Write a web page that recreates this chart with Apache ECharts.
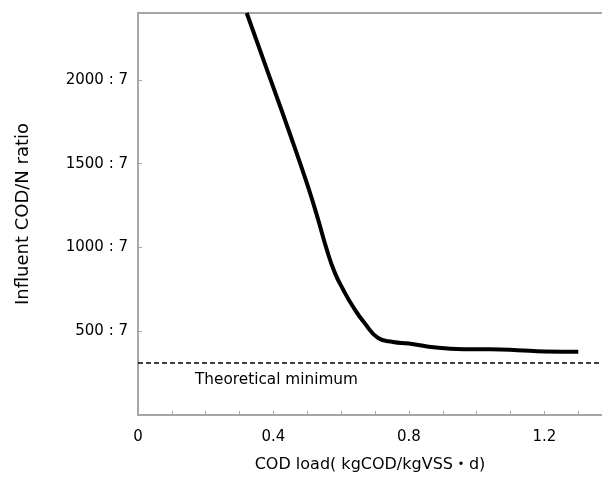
<!DOCTYPE html>
<html>
<head>
<meta charset="utf-8">
<script src="https://cdn.jsdelivr.net/npm/echarts@6/dist/echarts.min.js"></script>
<style>html,body{margin:0;padding:0;background:#fff}#c{width:602px;height:478px}</style>
</head>
<body>
<div id="c"></div>
<script>
// COD load (kgCOD/kgVSS·d)
var codLoad = [0.321, 0.39, 0.45, 0.50, 0.53, 0.557, 0.581, 0.606, 0.635, 0.670, 0.709, 0.753, 0.80, 0.88, 0.96, 1.04, 1.12, 1.20, 1.30];
// Influent COD (per 7 N)
var codNRatio = [2400, 2010, 1670, 1375, 1180, 990, 850, 748, 646, 546, 460, 436, 427, 403, 393, 392, 387, 379, 377];
var theoreticalMinimum = 311;
var xTickLabels = ['0', '0.4', '0.8', '1.2'];
var yTickLabels = ['500 : 7', '1000 : 7', '1500 : 7', '2000 : 7'];

var FONT = '"DejaVu Sans", "Noto Sans CJK JP", sans-serif';
var AXIS_GRAY = '#a6a6a6';

var chart = echarts.init(document.getElementById('c'), null, {renderer: 'canvas'});
var points = codLoad.map(function (x, i) { return [x, codNRatio[i]]; });

chart.setOption({
  animation: false,
  backgroundColor: '#fff',
  grid: {left: 138, right: 0, top: 13, bottom: 63, containLabel: false},
  xAxis: [{
    type: 'value', min: 0, max: 1.37, interval: 0.1,
    name: 'COD load( kgCOD/kgVSS・d)', nameLocation: 'middle', nameGap: 42,
    nameTextStyle: {color: '#000', fontSize: 16, fontFamily: FONT},
    axisLine: {show: true, onZero: false, lineStyle: {color: AXIS_GRAY, width: 2}},
    axisTick: {show: true, inside: true, length: 4, lineStyle: {color: AXIS_GRAY, width: 1}},
    axisLabel: {
      color: '#000', fontSize: 15, fontFamily: FONT, margin: 15, showMaxLabel: false,
      formatter: function (v) {
        var r = Math.round(v * 10);
        if (r % 4 !== 0) return '';
        return xTickLabels[r / 4] || '';
      }
    },
    splitLine: {show: false}
  }, {
    type: 'value', min: 0, max: 1.37, position: 'top',
    axisLine: {show: true, onZero: false, lineStyle: {color: AXIS_GRAY, width: 2}},
    axisTick: {show: false}, axisLabel: {show: false}, splitLine: {show: false}
  }],
  yAxis: {
    type: 'value', min: 0, max: 2400, interval: 500,
    name: 'Influent COD/N ratio', nameLocation: 'middle', nameGap: 106,
    nameTextStyle: {color: '#000', fontSize: 18, fontFamily: FONT},
    axisLine: {show: true, onZero: false, lineStyle: {color: AXIS_GRAY, width: 2}},
    axisTick: {show: true, inside: true, length: 4, lineStyle: {color: AXIS_GRAY, width: 1}},
    axisLabel: {
      color: '#000', fontSize: 15, fontFamily: FONT, margin: 10,
      formatter: function (v) {
        var i = Math.round(v / 500) - 1;
        return (v > 0 && v <= 2000) ? yTickLabels[i] : '';
      }
    },
    splitLine: {show: false}
  },
  series: [{
    type: 'line', xAxisIndex: 0, data: points, smooth: 0.5,
    showSymbol: false, clip: true,
    lineStyle: {color: '#000', width: 4},
    markLine: {
      silent: true, symbol: 'none',
      lineStyle: {color: '#000', width: 1.5, type: [5, 3]},
      label: {
        show: true, position: 'insideStartBottom', formatter: 'Theoretical minimum',
        color: '#000', fontSize: 15.3, fontFamily: FONT, distance: [57, 9]
      },
      data: [{yAxis: theoreticalMinimum}]
    }
  }]
});
</script>
</body>
</html>
